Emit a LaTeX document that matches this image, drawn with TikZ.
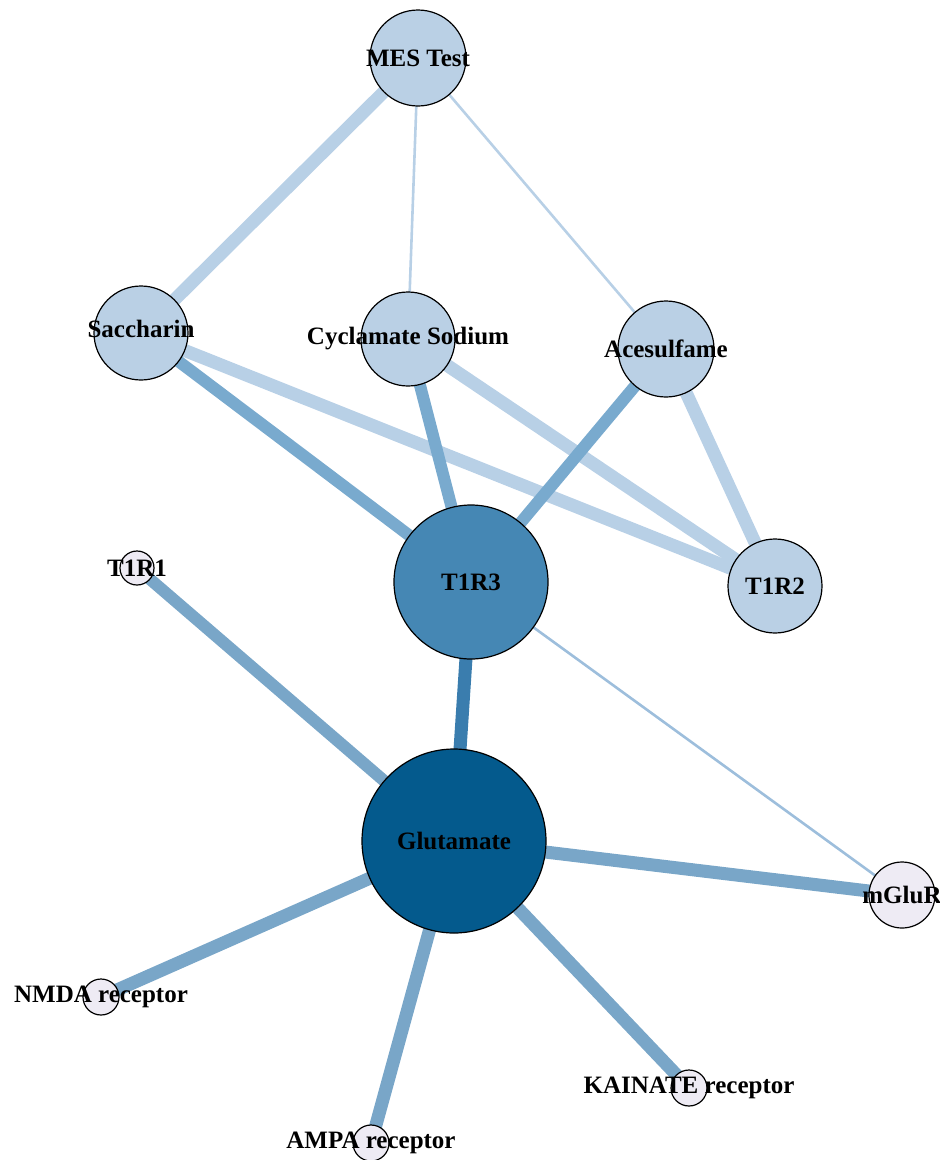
\documentclass[tikz,border=0pt]{standalone}
\usepackage{fontspec}
\setmainfont{Liberation Serif}
\definecolor{nlight}{HTML}{BAD0E5}
\definecolor{nmid}{HTML}{4587B4}
\definecolor{ndark}{HTML}{045A8D}
\definecolor{nlav}{HTML}{EEEBF4}
\definecolor{elight}{HTML}{B8D0E6}
\definecolor{emid}{HTML}{79AACE}
\definecolor{esteel}{HTML}{79A6C8}
\definecolor{edark}{HTML}{3A7DAE}
\definecolor{ethin}{HTML}{9DBEDC}
\tikzset{
  vtx/.style={circle,draw=black,line width=1.2pt,inner sep=0pt},
  lbl/.style={font=\fontsize{25}{25}\selectfont\bfseries,text=black,inner sep=0pt},
  wide/.style={line width=13pt},
  thin/.style={line width=2.6pt}
}
\begin{document}
\begin{tikzpicture}[x=1pt,y=-1pt]
\useasboundingbox (0,0) rectangle (940,1160);
% node positions
\coordinate (pMES) at (418,58);
\coordinate (pSac) at (141,333);
\coordinate (pCyc) at (408,339);
\coordinate (pAce) at (666,349);
\coordinate (pT3) at (471,582);
\coordinate (pT2) at (775,586);
\coordinate (pT1) at (137,568);
\coordinate (pGlu) at (454,841);
\coordinate (pmG) at (902,895);
\coordinate (pNM) at (101,997);
\coordinate (pAM) at (371,1143);
\coordinate (pKA) at (689,1088);
% edges
\draw[elight,wide] (pMES) -- (pSac);
\draw[elight,thin] (pMES) -- (pCyc);
\draw[elight,thin] (pMES) -- (pAce);
\draw[elight,wide] (pSac) -- (pT2);
\draw[elight,wide] (pCyc) -- (pT2);
\draw[elight,wide] (pAce) -- (pT2);
\draw[emid,line width=12pt] (pSac) -- (pT3);
\draw[emid,line width=12pt] (pCyc) -- (pT3);
\draw[emid,line width=12pt] (pAce) -- (pT3);
\draw[edark,line width=13pt] (pT3) -- (pGlu);
\draw[ethin,thin] (pT3) -- (pmG);
\draw[esteel,line width=12pt] (pT1) -- (pGlu);
\draw[esteel,wide] (pGlu) -- (pmG);
\draw[esteel,wide] (pGlu) -- (pNM);
\draw[esteel,wide] (pGlu) -- (pAM);
\draw[esteel,wide] (pGlu) -- (pKA);
% nodes
\node[vtx,fill=nlight,minimum size=96pt] (MES) at (pMES) {};
\node[vtx,fill=nlight,minimum size=94pt] (Sac) at (pSac) {};
\node[vtx,fill=nlight,minimum size=94pt] (Cyc) at (pCyc) {};
\node[vtx,fill=nlight,minimum size=96pt] (Ace) at (pAce) {};
\node[vtx,fill=nmid,minimum size=154pt] (T3) at (pT3) {};
\node[vtx,fill=nlight,minimum size=94pt] (T2) at (pT2) {};
\node[vtx,fill=nlav,minimum size=34pt] (T1) at (pT1) {};
\node[vtx,fill=ndark,minimum size=184pt] (Glu) at (pGlu) {};
\node[vtx,fill=nlav,minimum size=66pt] (mG) at (pmG) {};
\node[vtx,fill=nlav,minimum size=36pt] (NM) at (pNM) {};
\node[vtx,fill=nlav,minimum size=36pt] (AM) at (pAM) {};
\node[vtx,fill=nlav,minimum size=36pt] (KA) at (pKA) {};
% labels
\node[lbl] (tMES) at (pMES) {MES Test};
\node[lbl] (tSac) at ([yshift=4pt]pSac) {Saccharin};
\node[lbl] (tCyc) at (pCyc) {Cyclamate Sodium};
\node[lbl] (tAce) at (pAce) {Acesulfame};
\node[lbl] (tT3) at (pT3) {T1R3};
\node[lbl] (tT2) at (pT2) {T1R2};
\node[lbl] (tT1) at (pT1) {T1R1};
\node[lbl] (tGlu) at (pGlu) {Glutamate};
\node[lbl] (tmG) at (pmG) {mGluR};
\node[lbl] (tNM) at (pNM) {NMDA receptor};
\node[lbl] (tAM) at (pAM) {AMPA receptor};
\node[lbl] (tKA) at (pKA) {KAINATE receptor};
\end{tikzpicture}
\end{document}
